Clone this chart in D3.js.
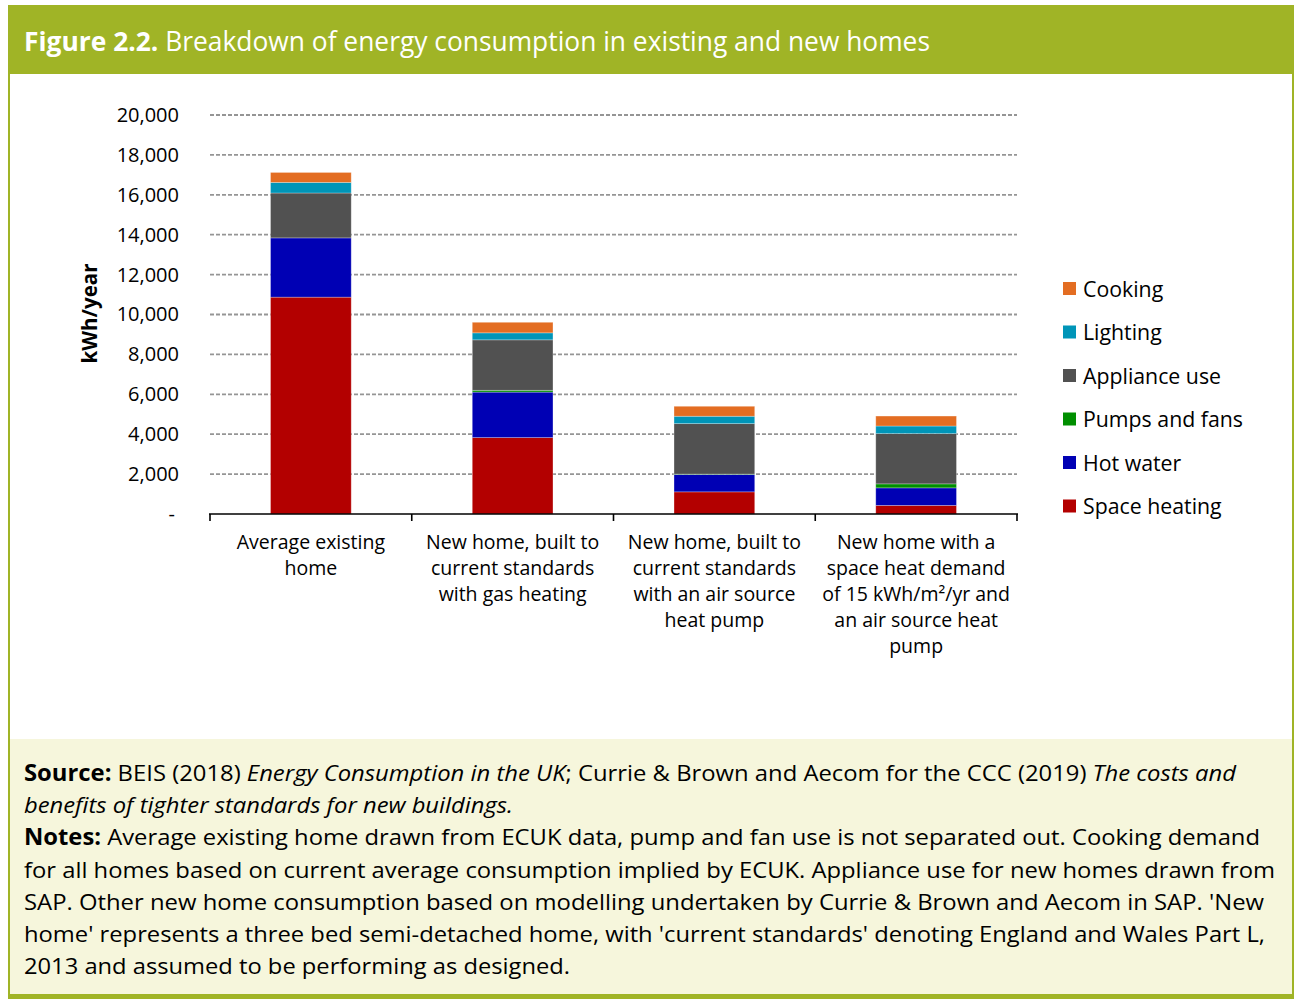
<!DOCTYPE html>
<html>
<head>
<meta charset="utf-8">
<script src="https://cdn.jsdelivr.net/npm/d3@7"></script>
<style>
  body { margin: 0; background: #fff; }
  svg { display: block; font-family: "Open Sans", "Noto Sans", sans-serif; }
</style>
</head>
<body>
<svg id="chart" width="1295" height="999"></svg>
<script>
// Categories (each label split into lines as in the figure)
const categories = ["existing", "gas", "ashp", "ashp15"];
const categoryLabels = [
  ["Average existing", "home"],
  ["New home, built to", "current standards", "with gas heating"],
  ["New home, built to", "current standards", "with an air source", "heat pump"],
  ["New home with a", "space heat demand", "of 15 kWh/m²/yr and", "an air source heat", "pump"]
];
// Series, stacked bottom to top (kWh/year)
const seriesNames = ["Space heating", "Hot water", "Pumps and fans", "Appliance use", "Lighting", "Cooking"];
const spaceHeating = [10870, 3830, 1110, 430];
const hotWater     = [2970, 2280, 870, 880];
const pumpsAndFans = [0, 90, 20, 200];
const applianceUse = [2250, 2530, 2530, 2520];
const lighting     = [530, 350, 370, 380];
const cooking      = [500, 530, 500, 500];
const yTicks = [0, 2000, 4000, 6000, 8000, 10000, 12000, 14000, 16000, 18000, 20000];

const colors = {
  "Space heating": "#b30000",
  "Hot water": "#0000b4",
  "Pumps and fans": "#008f00",
  "Appliance use": "#515151",
  "Lighting": "#0095b8",
  "Cooking": "#e36d22"
};

const seriesValues = [spaceHeating, hotWater, pumpsAndFans, applianceUse, lighting, cooking];
const table = categories.map((c, i) => {
  const row = { category: c };
  seriesNames.forEach((s, j) => row[s] = seriesValues[j][i]);
  return row;
});

const svg = d3.select("#chart");
const green = "#a0b426";

// frame, title bar and footer panel
svg.append("rect").attr("x", 0).attr("y", 0).attr("width", 1295).attr("height", 999).attr("fill", "#fff");
svg.append("rect").attr("x", 8).attr("y", 5).attr("width", 1286).attr("height", 69).attr("fill", green);
svg.append("rect").attr("x", 8).attr("y", 739).attr("width", 1286).attr("height", 257).attr("fill", "#f6f6dc");
svg.append("rect").attr("x", 8).attr("y", 994).attr("width", 1286).attr("height", 5).attr("fill", green);
svg.append("rect").attr("x", 8).attr("y", 5).attr("width", 2).attr("height", 994).attr("fill", green);
svg.append("rect").attr("x", 1292).attr("y", 5).attr("width", 2).attr("height", 994).attr("fill", green);

const title = svg.append("text")
  .attr("x", 24).attr("y", 51)
  .attr("fill", "#fff").attr("font-size", 27)
  .attr("textLength", 906).attr("lengthAdjust", "spacingAndGlyphs");
title.append("tspan").attr("font-weight", "bold").text("Figure 2.2.");
title.append("tspan").text(" Breakdown of energy consumption in existing and new homes");

// Scales
const x = d3.scaleBand().domain(categories).range([210, 1017]).paddingInner(0.6).paddingOuter(0.3);
const y = d3.scaleLinear().domain([0, 20000]).range([514, 115]);

// Gridlines
svg.append("g").selectAll("line")
  .data(yTicks.filter(d => d > 0))
  .join("line")
  .attr("x1", 210).attr("x2", 1017)
  .attr("y1", d => y(d)).attr("y2", d => y(d))
  .attr("stroke", "#959595").attr("stroke-width", 1.8)
  .attr("stroke-dasharray", "4,2");

// Y axis
const yAxis = svg.append("g")
  .attr("transform", "translate(190,0)")
  .call(d3.axisLeft(y).tickValues(yTicks).tickSize(0)
    .tickFormat(d => d === 0 ? "-" : d3.format(",")(d)));
yAxis.select(".domain").remove();
yAxis.selectAll("text")
  .attr("font-family", "Open Sans, Noto Sans, sans-serif")
  .attr("font-size", 20).attr("fill", "#000")
  .attr("dx", d => d === 0 ? -12 : -8);

svg.append("text")
  .attr("transform", `translate(97,${y(10000) - 1}) rotate(-90)`)
  .attr("text-anchor", "middle")
  .attr("font-size", 20.5).attr("font-weight", "bold")
  .text("kWh/year");

// Stacked bars
const stack = d3.stack().keys(seriesNames)(table);
svg.append("g").selectAll("g")
  .data(stack)
  .join("g")
  .attr("fill", d => colors[d.key])
  .selectAll("rect")
  .data(d => d)
  .join("rect")
  .attr("x", d => x(d.data.category))
  .attr("width", x.bandwidth())
  .attr("y", d => y(d[1]))
  .attr("height", d => y(d[0]) - y(d[1]))
  .attr("stroke", "#fff").attr("stroke-opacity", 0.35).attr("stroke-width", 0.8);

// X axis with ticks at band boundaries
const xAxis = svg.append("g");
xAxis.append("line")
  .attr("x1", 209).attr("x2", 1018)
  .attr("y1", y(0)).attr("y2", y(0))
  .attr("stroke", "#000").attr("stroke-width", 1.6);
const bounds = categories.map(c => x(c) - x.step() * x.paddingInner() / 2);
bounds.push(x(categories[categories.length - 1]) + x.bandwidth() + x.step() * x.paddingInner() / 2);
xAxis.selectAll(".tick")
  .data(bounds)
  .join("line")
  .attr("x1", d => d).attr("x2", d => d)
  .attr("y1", y(0)).attr("y2", y(0) + 7)
  .attr("stroke", "#000").attr("stroke-width", 1.6);

svg.append("g").selectAll("text")
  .data(categories)
  .join("text")
  .attr("text-anchor", "middle")
  .attr("font-size", 19.5)
  .each(function(c, i) {
    d3.select(this).selectAll("tspan")
      .data(categoryLabels[i])
      .join("tspan")
      .attr("x", x(c) + x.bandwidth() / 2)
      .attr("y", (d, k) => 549 + k * 26)
      .text(d => d);
  });

// Legend (top to bottom: Cooking ... Space heating)
const legend = svg.append("g").selectAll("g")
  .data(seriesNames.slice().reverse())
  .join("g")
  .attr("transform", (d, i) => `translate(1063,${289 + i * 43.5})`);
legend.append("rect")
  .attr("x", 0).attr("y", -7).attr("width", 13).attr("height", 13)
  .attr("fill", d => colors[d]);
legend.append("text")
  .attr("x", 20).attr("y", 7.5)
  .attr("font-size", 21.3)
  .text(d => d);

// Footer: source and notes
const footerLines = [
  { w: 1212, parts: [["b", "Source:"], ["", " BEIS (2018) "], ["i", "Energy Consumption in the UK"], ["", "; Currie & Brown and Aecom for the CCC (2019) "], ["i", "The costs and"]] },
  { w: 489, parts: [["i", "benefits of tighter standards for new buildings."]] },
  { w: 1236, parts: [["b", "Notes:"], ["", " Average existing home drawn from ECUK data, pump and fan use is not separated out. Cooking demand"]] },
  { w: 1251, parts: [["", "for all homes based on current average consumption implied by ECUK. Appliance use for new homes drawn from"]] },
  { w: 1240, parts: [["", "SAP. Other new home consumption based on modelling undertaken by Currie & Brown and Aecom in SAP. 'New"]] },
  { w: 1241, parts: [["", "home' represents a three bed semi-detached home, with 'current standards' denoting England and Wales Part L,"]] },
  { w: 546, parts: [["", "2013 and assumed to be performing as designed."]] }
];
svg.append("g").selectAll("text")
  .data(footerLines)
  .join("text")
  .attr("x", 24)
  .attr("y", (d, i) => 781 + i * 32.2)
  .attr("font-size", 22.5)
  .attr("fill", "#000")
  .attr("textLength", d => d.w)
  .attr("lengthAdjust", "spacingAndGlyphs")
  .each(function(d) {
    d3.select(this).selectAll("tspan")
      .data(d.parts)
      .join("tspan")
      .attr("font-weight", p => p[0] === "b" ? "bold" : null)
      .attr("font-style", p => p[0] === "i" ? "italic" : null)
      .text(p => p[1]);
  });
</script>
</body>
</html>
